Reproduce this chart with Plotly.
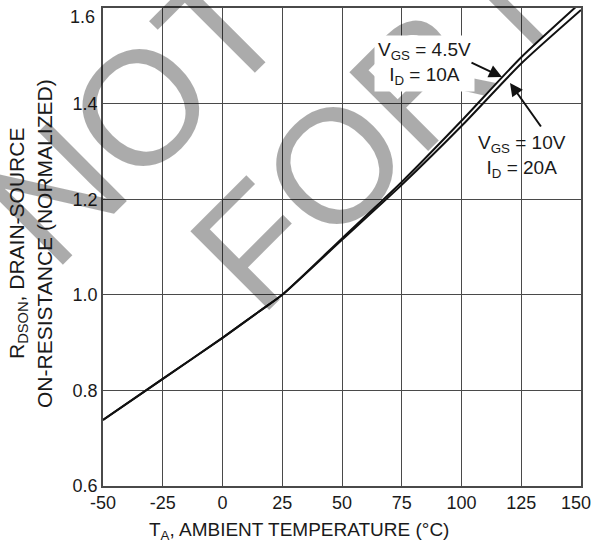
import plotly.graph_objects as go

# Data
temps = [-50, -25, 0, 15, 25, 50, 75, 100, 125, 150]
r_vgs45 = [0.738, 0.824, 0.910, 0.964, 1.000, 1.118, 1.236, 1.364, 1.497, 1.612]
r_vgs10 = [0.738, 0.824, 0.910, 0.964, 1.000, 1.115, 1.230, 1.353, 1.484, 1.596]

x_ticks = [-50, -25, 0, 25, 50, 75, 100, 125, 150]
y_ticks = [0.6, 0.8, 1.0, 1.2, 1.4, 1.6]
x_tick_text = ["-50", "-25", "0", "25", "50", "75", "100", "125", "150\u00a0\u00a0"]
y_tick_text = ["0.6", "0.8", "1.0", "1.2", "1.4", "1.6"]

W, H = 591, 543
L, R, T, B = 103, 10, 8, 57
PW, PH = W - L - R, H - T - B

def px(xp, yp):
    return (xp - L) / PW, (T + PH - yp) / PH

FONT = "Liberation Sans, Arial, Helvetica, sans-serif"
TXT = "#1a1a1a"

fig = go.Figure()
for ys in (r_vgs10, r_vgs45):
    fig.add_trace(go.Scatter(x=temps, y=ys, mode="lines",
                             line=dict(color="#111111", width=2, shape="spline", smoothing=0.6),
                             showlegend=False, hoverinfo="skip"))

ann = []
# watermark words (rotated, semi-transparent gray)
wm = [("NOT", 134, 113), ("R", 317, -77), ("FOR", 341, 159), ("N", 526, -26)]
for txt, xp_, yp_ in wm:
    xx, yy = px(xp_, yp_)
    ann.append(dict(text=txt, x=xx, y=yy, xref="paper", yref="paper", showarrow=False,
                    textangle=-45, xanchor="center", yanchor="middle",
                    font=dict(family=FONT, size=162, color="rgba(0,0,0,0.33)")))

# top y tick label sits below its gridline in the reference (kept visible)
xx, yy = px(97, 17)
ann.append(dict(text=y_tick_text[-1], x=xx, y=yy, xref="paper", yref="paper", showarrow=False,
                xanchor="right", yanchor="middle", font=dict(family=FONT, size=18, color=TXT)))
y_tick_shown = y_tick_text[:-1] + [""]

# axis titles
xx, yy = px(299, 531)
ann.append(dict(text="T<sub>A</sub>, AMBIENT TEMPERATURE (°C)", x=xx, y=yy, xref="paper", yref="paper",
                showarrow=False, xanchor="center", yanchor="middle",
                font=dict(family=FONT, size=19, color=TXT)))
xx, yy = px(18, 244)
ann.append(dict(text="R<sub>DSON</sub>, DRAIN-SOURCE", x=xx, y=yy, xref="paper", yref="paper",
                showarrow=False, textangle=-90, xanchor="center", yanchor="middle",
                font=dict(family=FONT, size=21, color=TXT)))
xx, yy = px(45, 244)
ann.append(dict(text="ON-RESISTANCE (NORMALIZED)", x=xx, y=yy, xref="paper", yref="paper",
                showarrow=False, textangle=-90, xanchor="center", yanchor="middle",
                font=dict(family=FONT, size=21, color=TXT)))

# curve labels
xx, yy = px(424, 64)
ann.append(dict(text="V<sub>GS</sub> = 4.5V<br>I<sub>D</sub> = 10A", x=xx, y=yy, xref="paper", yref="paper",
                showarrow=False, xanchor="center", yanchor="middle", align="center",
                bgcolor="white", borderpad=3,
                font=dict(family=FONT, size=19, color=TXT)))
xx, yy = px(522, 156)
ann.append(dict(text="V<sub>GS</sub> = 10V<br>I<sub>D</sub> = 20A", x=xx, y=yy, xref="paper", yref="paper",
                showarrow=False, xanchor="center", yanchor="middle", align="center",
                bgcolor="rgba(255,255,255,0)", borderpad=2,
                font=dict(family=FONT, size=19, color=TXT)))

# arrows
for tip, tail in (((502, 77), (470, 62)), ((510, 83), (542, 128))):
    xx, yy = px(*tip)
    ann.append(dict(text="", x=xx, y=yy, xref="paper", yref="paper", showarrow=True,
                    ax=tail[0] - tip[0], ay=tail[1] - tip[1], arrowhead=2, arrowsize=1.3,
                    arrowwidth=2, arrowcolor="#111111", standoff=0))

fig.update_layout(
    width=W, height=H, margin=dict(l=L, r=R, t=T, b=B, pad=0, autoexpand=False),
    paper_bgcolor="white", plot_bgcolor="white",
    annotations=ann,
    xaxis=dict(range=[-50, 150], tickvals=x_ticks, ticktext=x_tick_text, automargin=False,
               ticklabeloverflow="allow",
               showgrid=True, gridcolor="#4a4a4a", gridwidth=1, zeroline=False,
               showline=True, linecolor="#4a4a4a", linewidth=1.5, mirror=True,
               ticks="", ticklen=0,
               tickfont=dict(family=FONT, size=18, color=TXT)),
    yaxis=dict(range=[0.6, 1.6], tickvals=y_ticks, ticktext=y_tick_shown, automargin=False,
               ticklabeloverflow="allow",
               showgrid=True, gridcolor="#4a4a4a", gridwidth=1, zeroline=False,
               showline=True, linecolor="#4a4a4a", linewidth=1.5, mirror=True,
               ticks="", ticklen=0,
               tickfont=dict(family=FONT, size=18, color=TXT)),
)

fig.write_html("out.html", config={"displayModeBar": False},
               post_script="document.body.style.margin='0';document.body.style.padding='0';")
